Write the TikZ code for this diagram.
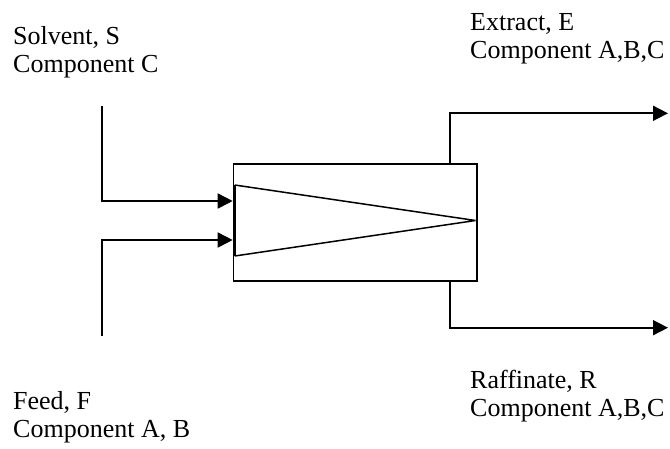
\documentclass[tikz,border=0pt]{standalone}
\usepackage{fontspec}
\setmainfont{Liberation Serif}
\usetikzlibrary{arrows.meta}
\begin{document}
\begin{tikzpicture}[x=1pt,y=-1pt,
  flow/.style={line width=1.7pt,-{Triangle[length=15pt,width=15pt]}},
  lbl/.style={inner sep=0pt,anchor=base west,align=left,font=\fontsize{26}{28}\selectfont}]
\useasboundingbox[fill=white] (0,0) rectangle (670,448);
% vessel
\node[draw,line width=1.5pt,minimum width=243.6pt,minimum height=117pt,inner sep=0pt,anchor=north west] (box) at (232.7,163) {};
\coordinate (tA) at (234.7,185);
\coordinate (tB) at (234.7,256);
\coordinate (tC) at (475.5,220.5);
\draw[line width=1.5pt,line join=bevel] (tA) -- (tC) -- (tB);
\draw[line width=2.8pt] (tA) -- (tB);
% inlets
\coordinate (sTop) at (102.3,106);
\coordinate (sIn) at (232.7,201);
\coordinate (fBot) at (102.3,336);
\coordinate (fIn) at (232.7,240);
\draw[flow] (sTop) |- (sIn);
\draw[flow] (fBot) |- (fIn);
% outlets
\coordinate (eOut) at (450,163);
\coordinate (eEnd) at (668,113.3);
\coordinate (rOut) at (450,280);
\coordinate (rEnd) at (668,327.7);
\draw[flow] (eOut) |- (eEnd);
\draw[flow] (rOut) |- (rEnd);
% labels
\node[lbl] (solv) at (13,72.5) {Solvent, S\\Component C};
\node[lbl] (extr) at (470,58.5) {Extract, E\\Component A,B,C};
\node[lbl] (feed) at (13,437.5) {Feed, F\\Component A, B};
\node[lbl] (raff) at (470,416.5) {Raffinate, R\\Component A,B,C};
\end{tikzpicture}
\end{document}
